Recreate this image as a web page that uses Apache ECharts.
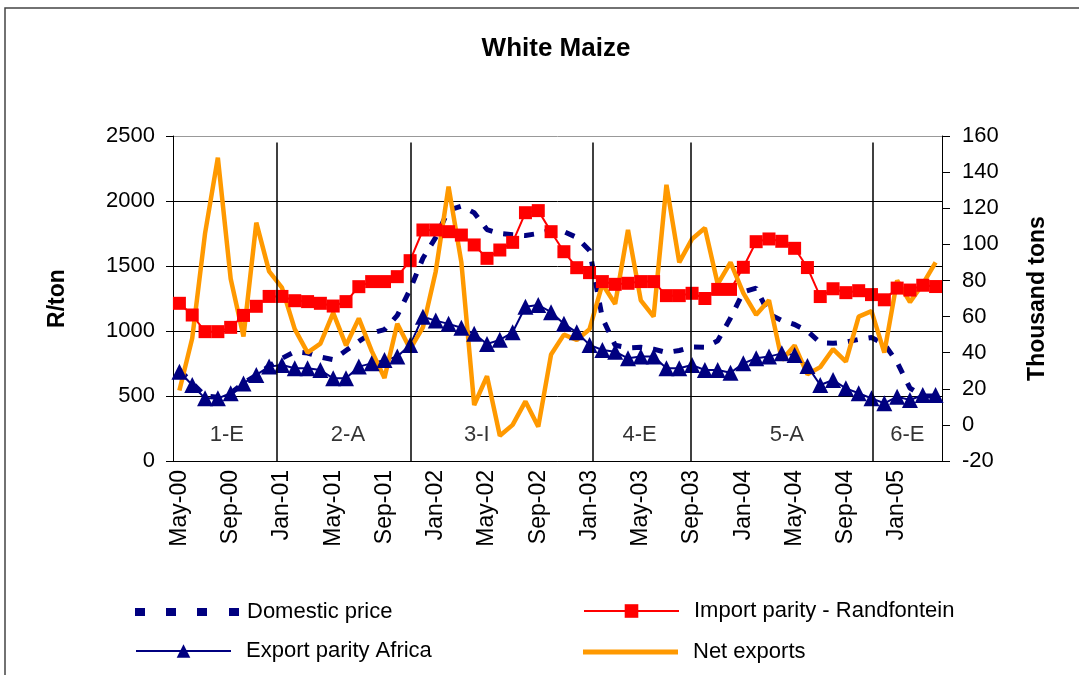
<!DOCTYPE html>
<html>
<head>
<meta charset="utf-8">
<script src="https://cdn.jsdelivr.net/npm/echarts@6/dist/echarts.min.js"></script>
<style>html,body{margin:0;padding:0;background:#fff;}#c{width:1079px;height:675px;}</style>
</head>
<body>
<div id="c"></div>
<script>
const months = ['May-00','Jun-00','Jul-00','Aug-00','Sep-00','Oct-00','Nov-00','Dec-00',
  'Jan-01','Feb-01','Mar-01','Apr-01','May-01','Jun-01','Jul-01','Aug-01','Sep-01','Oct-01','Nov-01','Dec-01',
  'Jan-02','Feb-02','Mar-02','Apr-02','May-02','Jun-02','Jul-02','Aug-02','Sep-02','Oct-02','Nov-02','Dec-02',
  'Jan-03','Feb-03','Mar-03','Apr-03','May-03','Jun-03','Jul-03','Aug-03','Sep-03','Oct-03','Nov-03','Dec-03',
  'Jan-04','Feb-04','Mar-04','Apr-04','May-04','Jun-04','Jul-04','Aug-04','Sep-04','Oct-04','Nov-04','Dec-04',
  'Jan-05','Feb-05','Mar-05','Apr-05'];

const domesticPrice = [700,600,500,490,520,600,660,730,790,840,
  830,800,780,850,920,985,1010,1120,1320,1560,
  1720,1930,1960,1910,1780,1750,1740,1735,1750,1775,
  1765,1720,1620,1100,890,870,875,860,835,850,
  877,875,925,1100,1300,1330,1130,1080,1050,1000,
  910,905,915,935,950,900,760,560,500,500];

const importParity = [1213,1123,995,995,1028,1120,1190,1266,1266,1233,
  1226,1213,1192,1226,1341,1380,1380,1418,1541,1777,
  1777,1764,1738,1662,1559,1623,1682,1910,1926,1764,
  1610,1487,1449,1380,1359,1367,1380,1380,1272,1272,
  1290,1250,1320,1320,1490,1687,1708,1690,1636,1488,
  1265,1325,1295,1310,1280,1240,1330,1315,1352,1342];

const exportParity = [687,585,482,482,521,597,662,726,738,713,
  713,700,636,636,726,751,777,803,892,1110,
  1080,1055,1025,978,900,932,990,1187,1200,1145,
  1055,990,893,854,841,790,803,803,713,713,
  738,700,700,679,751,790,803,828,815,730,
  585,623,559,521,482,444,495,469,508,508];

const netExports = [19,48,106,148,81,49,112,85,76,53,
  40,45,62,44,59,41,26,56,42,54,
  85,132,90,11,27,-6,0,13,-1,39,
  50,47,53,78,67,108,69,60,133,90,
  103,109,78,90,73,61,69,36,44,28,
  32,42,35,60,63,40,80,68,78,90];

const leftTicks = {min:0, max:2500, interval:500};
const rightTicks = {min:-20, max:160, interval:20};

// Marketing-season phases (boundaries in months from start of axis)
const phaseBounds = [8.08, 18.55, 32.75, 40.36, 54.6];
const phaseNames = ['1-E','2-A','3-I','4-E','5-A','6-E'];
const phaseLabelX = [4.2, 13.65, 23.7, 36.4, 47.9, 57.3];
const phaseLabelY = 203;
const phaseTop = 2450;

const FONT = 'Arial, "Liberation Sans", sans-serif';
const chart = echarts.init(document.getElementById('c'));

const legendText = {fontSize: 22, fontFamily: FONT, color: '#000', padding: [0,0,0,10]};
function mkLegend(item, left, top, extra) {
  return Object.assign({
    data: [item], left: left, top: top,
    itemWidth: 95, itemHeight: 17, itemGap: 0,
    textStyle: legendText, selectedMode: false
  }, extra || {});
}

chart.setOption({
  animation: false,
  backgroundColor: '#fff',
  title: {
    text: 'White Maize', left: 551, top: 31, textAlign: 'center',
    textStyle: {fontSize: 26, fontWeight: 'bold', fontFamily: FONT, color: '#000'}
  },
  graphic: [{
    type: 'rect', shape: {x: 5, y: 8, width: 1100, height: 700},
    style: {fill: 'none', stroke: '#444', lineWidth: 1.5}, silent: true
  }],
  grid: {left: 173, right: 137, top: 136, bottom: 214, containLabel: false},
  legend: [
    mkLegend({name: 'Domestic price',
      icon: 'path://M0,0h10v8h-10z M31,0h10v8h-10z M62,0h10v8h-10z M94,0h10v8h-10z'},
      130, 596, {itemWidth: 104, itemHeight: 8, textStyle: Object.assign({}, legendText, {padding: [0,0,0,3]})}),
    mkLegend('Import parity - Randfontein', 578, 595),
    mkLegend('Export parity Africa', 130, 635),
    mkLegend({name: 'Net exports', icon: 'rect'}, 578, 636, {itemHeight: 5})
  ],
  xAxis: [{
    type: 'category', data: months, boundaryGap: true,
    axisLine: {lineStyle: {color: '#000', width: 1}},
    axisTick: {interval: 3, length: 7, lineStyle: {color: '#000'}},
    axisLabel: {interval: 3, rotate: 90, fontSize: 23, fontFamily: FONT, color: '#000', margin: 9},
    splitLine: {show: false}
  }, {
    type: 'value', min: 0, max: 60, show: false
  }],
  yAxis: [{
    type: 'value', min: leftTicks.min, max: leftTicks.max, interval: leftTicks.interval,
    name: 'R/ton', nameLocation: 'middle', nameRotate: 90, nameGap: 104,
    nameTextStyle: {fontSize: 23, fontWeight: 'bold', fontFamily: FONT, color: '#000'},
    axisLine: {show: true, lineStyle: {color: '#000', width: 1}},
    axisTick: {show: true, length: 7, lineStyle: {color: '#000'}},
    axisLabel: {fontSize: 22, fontFamily: FONT, color: '#000', margin: 18, formatter: v => String(v)},
    splitLine: {show: true, lineStyle: {color: ['#000','#000','#000','#000','#000','#999'], width: 1}}
  }, {
    type: 'value', min: rightTicks.min, max: rightTicks.max, interval: rightTicks.interval,
    position: 'right',
    name: 'Thousand tons', nameLocation: 'middle', nameRotate: 90, nameGap: 84,
    nameTextStyle: {fontSize: 23, fontWeight: 'bold', fontFamily: FONT, color: '#000'},
    axisLine: {show: true, lineStyle: {color: '#000', width: 1}},
    axisTick: {show: true, length: 8, lineStyle: {color: '#000'}},
    axisLabel: {fontSize: 22, fontFamily: FONT, color: '#000', margin: 20, formatter: v => String(v)},
    splitLine: {show: false}
  }],
  series: [{
    type: 'scatter', xAxisIndex: 1, yAxisIndex: 0, silent: true,
    symbolSize: 0,
    data: phaseNames.map((n, i) => ({value: [phaseLabelX[i], phaseLabelY], name: n})),
    label: {show: true, position: 'inside', formatter: p => p.name,
      fontSize: 22, fontFamily: FONT, color: '#000'},
    markLine: {
      silent: true, symbol: 'none', animation: false,
      label: {show: false},
      lineStyle: {color: '#000', width: 1.5, type: 'solid'},
      data: phaseBounds.map(b => [{coord: [b, 0]}, {coord: [b, phaseTop]}])
    }
  }, {
    name: 'Domestic price', type: 'line', data: domesticPrice,
    xAxisIndex: 0, yAxisIndex: 0, symbol: 'none',
    lineStyle: {color: '#000080', width: 5, type: [10, 11], cap: 'butt'},
    itemStyle: {color: '#000080'}
  }, {
    name: 'Import parity - Randfontein', type: 'line', data: importParity,
    xAxisIndex: 0, yAxisIndex: 0, symbol: 'rect', symbolSize: 13, showAllSymbol: true,
    lineStyle: {color: '#FF0000', width: 2},
    itemStyle: {color: '#FF0000'}
  }, {
    name: 'Export parity Africa', type: 'line', data: exportParity,
    xAxisIndex: 0, yAxisIndex: 0, symbol: 'triangle', symbolSize: 16, showAllSymbol: true,
    lineStyle: {color: '#000080', width: 2},
    itemStyle: {color: '#000080'}
  }, {
    name: 'Net exports', type: 'line', data: netExports,
    xAxisIndex: 0, yAxisIndex: 1, symbol: 'none',
    lineStyle: {color: '#FF9900', width: 4.5},
    itemStyle: {color: '#FF9900'}
  }]
});
</script>
</body>
</html>
